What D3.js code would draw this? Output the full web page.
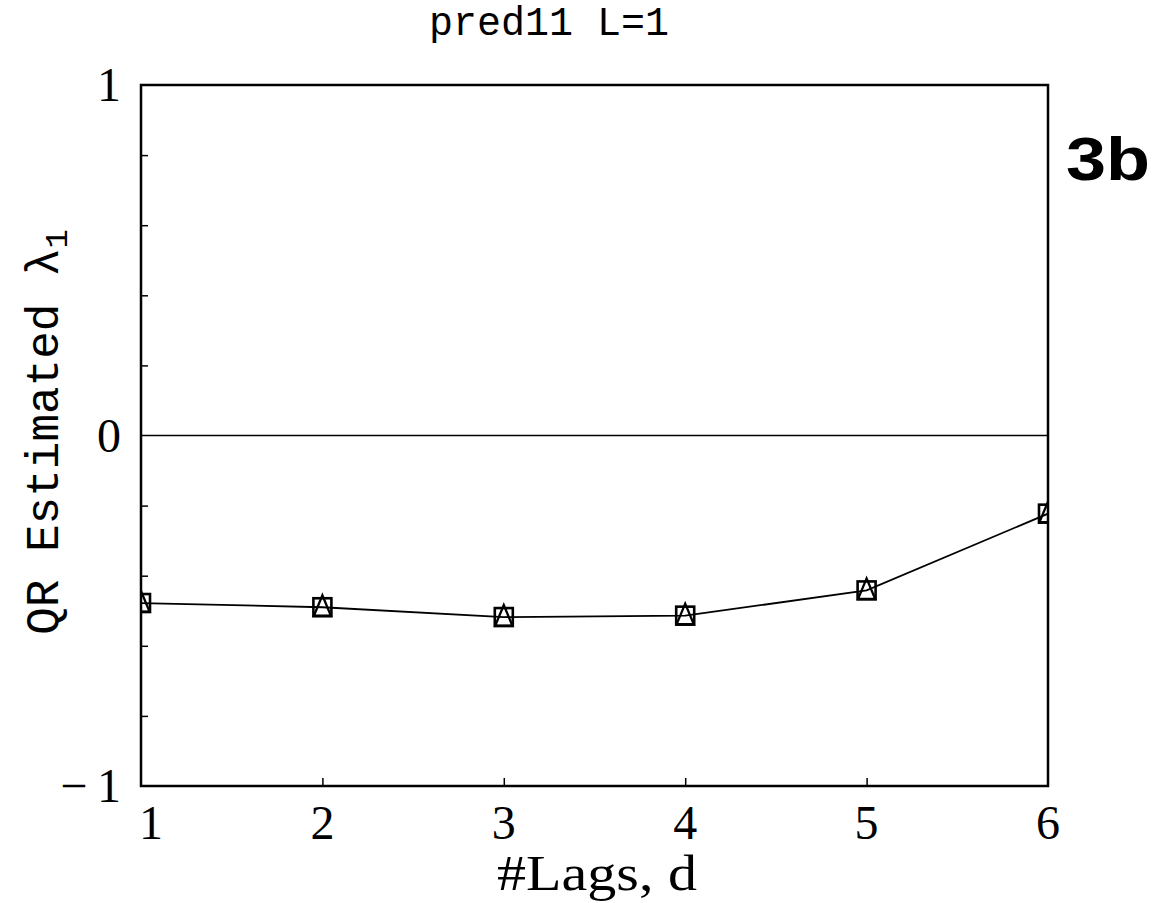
<!DOCTYPE html>
<html>
<head>
<meta charset="utf-8">
<script src="https://cdn.jsdelivr.net/npm/d3@7"></script>
<style>
body { margin: 0; background: #fff; }
</style>
</head>
<body>
<svg id="svg" width="1163" height="903"></svg>
<script>
// data
const lags = [1, 2, 3, 4, 5, 6];
const lambda1 = [-0.478, -0.49, -0.518, -0.514, -0.442, -0.223];
const yTickLabels = [-1, 0, 1];
const yMinorTicks = [-0.8, -0.6, -0.4, -0.2, 0.2, 0.4, 0.6, 0.8];
const xTicks = [1, 2, 3, 4, 5, 6];

const svg = d3.select("#svg");
const pLeft = 141, pRight = 1048, pTop = 85, pBottom = 786;

const x = d3.scaleLinear().domain([1, 6]).range([pLeft, pRight]);
const y = d3.scaleLinear().domain([-1, 1]).range([pBottom, pTop]);

svg.append("defs").append("clipPath").attr("id", "clip")
    .append("rect").attr("x", pLeft).attr("y", pTop).attr("width", pRight - pLeft).attr("height", pBottom - pTop);

// zero line
svg.append("line").attr("x1", pLeft).attr("x2", pRight).attr("y1", y(0)).attr("y2", y(0))
    .attr("stroke", "#000").attr("stroke-width", 1.5);

// inward ticks
const gx = svg.append("g").attr("transform", "translate(0," + pBottom + ")")
    .call(d3.axisTop(x).tickValues(xTicks.slice(1, -1)).tickSize(8).tickFormat(""));
const gy = svg.append("g").attr("transform", "translate(" + pLeft + ",0)")
    .call(d3.axisRight(y).tickValues(yMinorTicks).tickSize(7).tickFormat(""));
[gx, gy].forEach(g => {
    g.select(".domain").remove();
    g.selectAll("line").attr("stroke", "#000").attr("stroke-width", 1.5);
});

// line and markers
const line = d3.line().x((d, i) => x(lags[i])).y(d => y(d));
const plot = svg.append("g").attr("clip-path", "url(#clip)");
plot.append("path").datum(lambda1).attr("d", line)
    .attr("fill", "none").attr("stroke", "#000").attr("stroke-width", 1.8);

const sq = 18;
plot.selectAll("rect.m").data(lambda1).enter().append("rect")
    .attr("x", (d, i) => x(lags[i]) - sq / 2).attr("y", d => y(d) - sq / 2)
    .attr("width", sq).attr("height", sq)
    .attr("fill", "none").attr("stroke", "#000").attr("stroke-width", 2.6);
plot.selectAll("path.t").data(lambda1).enter().append("path")
    .attr("d", (d, i) => {
        const cx = x(lags[i]), cy = y(d);
        return "M" + (cx - 8.5) + "," + (cy + 8.5) + "L" + cx + "," + (cy - 12) + "L" + (cx + 8.5) + "," + (cy + 8.5) + "Z";
    })
    .attr("fill", "none").attr("stroke", "#000").attr("stroke-width", 2.3);

// frame
svg.append("rect").attr("x", pLeft).attr("y", pTop).attr("width", pRight - pLeft).attr("height", pBottom - pTop)
    .attr("fill", "none").attr("stroke", "#000").attr("stroke-width", 2.5);

// tick labels
svg.selectAll("text.yl").data(yTickLabels).enter().append("text")
    .attr("x", 121).attr("y", d => y(d) + 16)
    .attr("text-anchor", "end")
    .style("font-family", "Liberation Serif").style("font-size", "48px")
    .text(d => d < 0 ? "\u2212\u2009" + Math.abs(d) : d);

svg.selectAll("text.xl").data(xTicks).enter().append("text")
    .attr("x", d => x(d) + (d === 1 ? 10 : 0)).attr("y", 839)
    .attr("text-anchor", "middle")
    .style("font-family", "Liberation Serif").style("font-size", "48px")
    .text(d => d);

// titles
svg.append("text").attr("x", 549).attr("y", 35).attr("text-anchor", "middle")
    .style("font-family", "Liberation Mono").style("font-size", "40px")
    .text("pred11 L=1");

svg.append("text").attr("x", 597).attr("y", 890).attr("text-anchor", "middle")
    .attr("textLength", 200).attr("lengthAdjust", "spacingAndGlyphs")
    .style("font-family", "Liberation Serif").style("font-size", "50px")
    .text("#Lags, d");

const yl = svg.append("text").attr("transform", "translate(58,432) rotate(-90)")
    .attr("text-anchor", "middle")
    .style("font-family", "Liberation Mono").style("font-size", "46px");
yl.append("tspan").text("QR Estimated \u03bb");
yl.append("tspan").attr("dy", 9).style("font-size", "32px").text("1");

svg.append("text").attr("x", 1066).attr("y", 180)
    .attr("textLength", 84).attr("lengthAdjust", "spacingAndGlyphs")
    .style("font-family", "Liberation Sans").style("font-weight", "bold").style("font-size", "62px")
    .text("3b");
</script>
</body>
</html>
